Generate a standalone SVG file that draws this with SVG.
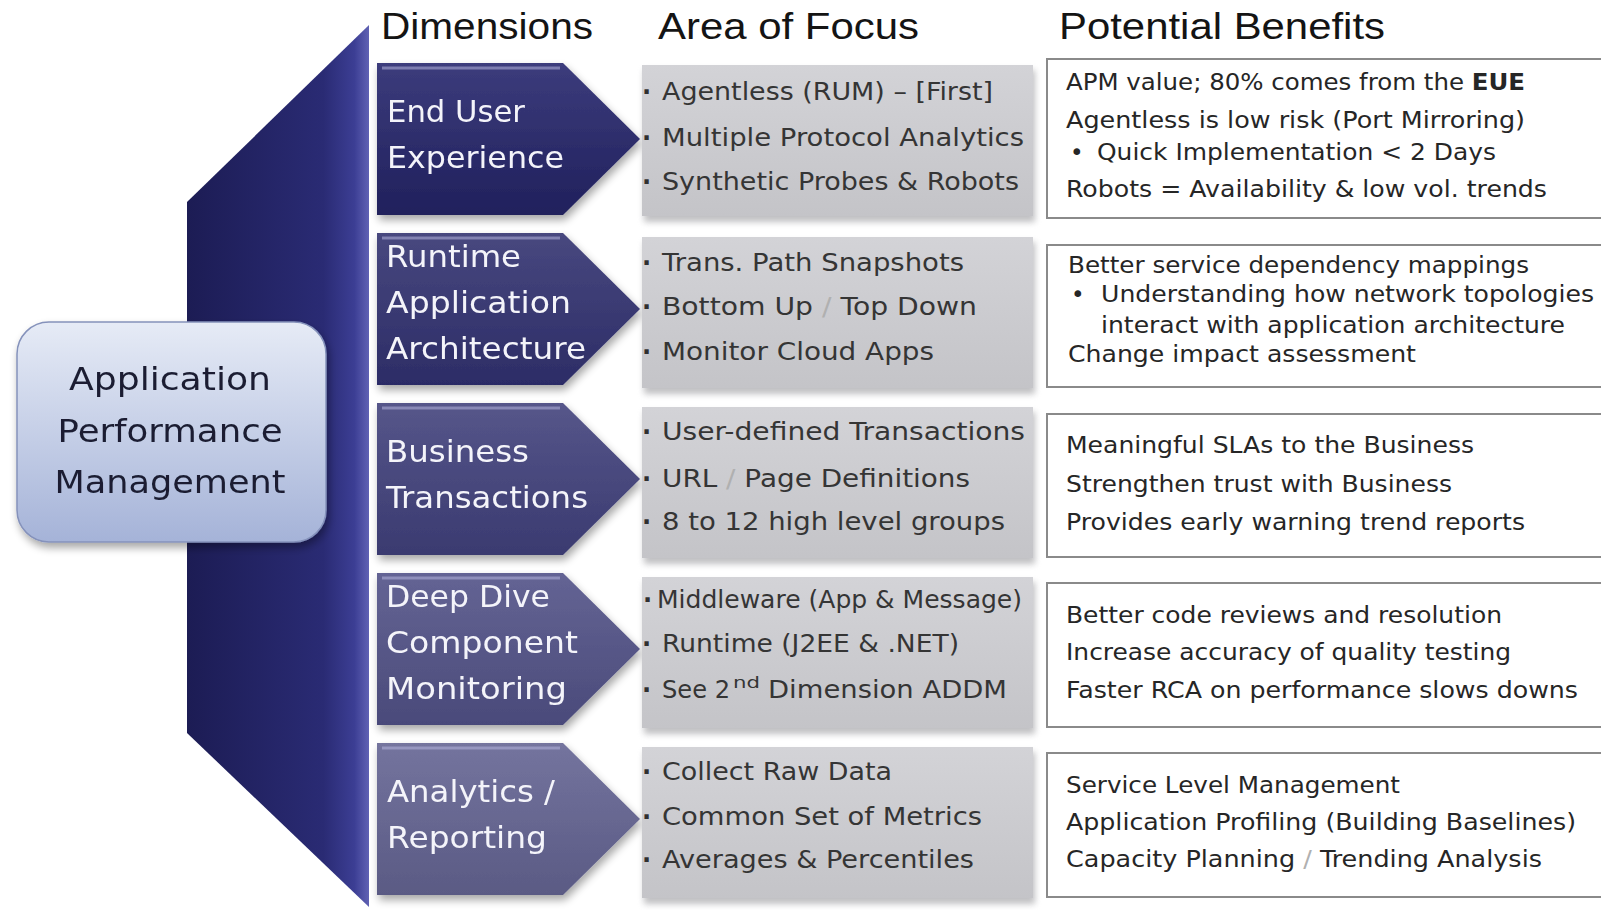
<svg xmlns="http://www.w3.org/2000/svg" width="1601" height="910" viewBox="0 0 1601 910">
<defs>
<style>
.hdr{font-family:"Liberation Sans",Arial,sans-serif;font-size:36px;fill:#141414}
.dim{font-family:"DejaVu Sans","Liberation Sans",sans-serif;font-size:31px;fill:#f4f4fa}
.foc{font-family:"DejaVu Sans","Liberation Sans",sans-serif;font-size:24px;fill:#353535}
.bul{font-family:"DejaVu Sans","Liberation Sans",sans-serif;font-size:24px;fill:#303030;font-weight:bold}
.ben{font-family:"DejaVu Sans","Liberation Sans",sans-serif;font-size:23px;fill:#262626}
.apm{font-family:"DejaVu Sans","Liberation Sans",sans-serif;font-size:32px;fill:#1a1f33;text-anchor:middle}
.fbox{fill:url(#gGray)}
.fshadow{fill:#8d8d92;opacity:0.55;filter:url(#blur3)}
.bbox{fill:#ffffff;stroke:#8a8a8a;stroke-width:2}
.hl{fill:none;stroke:#b4b4dc;stroke-width:3;stroke-opacity:0.55}
.faint{fill:#b0b0b0}
</style>
<linearGradient id="gSpine" gradientUnits="userSpaceOnUse" x1="187" y1="0" x2="369" y2="0">
<stop offset="0" stop-color="#1c1c54"/>
<stop offset="0.75" stop-color="#2a2b74"/>
<stop offset="0.92" stop-color="#3c3e94"/>
<stop offset="1" stop-color="#6062b4"/>
</linearGradient>
<linearGradient id="gApm" x1="0" y1="0" x2="0" y2="1">
<stop offset="0" stop-color="#e6ebf6"/>
<stop offset="1" stop-color="#a5b3d8"/>
</linearGradient>
<linearGradient id="gGray" x1="0" y1="0" x2="0" y2="1">
<stop offset="0" stop-color="#d3d3d7"/>
<stop offset="1" stop-color="#c4c4c8"/>
</linearGradient>
<linearGradient id="gC1" x1="0" y1="0" x2="0" y2="1"><stop offset="0" stop-color="#3c3c7c"/><stop offset="1" stop-color="#20205c"/></linearGradient>
<linearGradient id="gC2" x1="0" y1="0" x2="0" y2="1"><stop offset="0" stop-color="#48487f"/><stop offset="1" stop-color="#2c2c66"/></linearGradient>
<linearGradient id="gC3" x1="0" y1="0" x2="0" y2="1"><stop offset="0" stop-color="#56568a"/><stop offset="1" stop-color="#3a3a70"/></linearGradient>
<linearGradient id="gC4" x1="0" y1="0" x2="0" y2="1"><stop offset="0" stop-color="#646494"/><stop offset="1" stop-color="#4a4a7a"/></linearGradient>
<linearGradient id="gC5" x1="0" y1="0" x2="0" y2="1"><stop offset="0" stop-color="#74749e"/><stop offset="1" stop-color="#5a5a84"/></linearGradient>
<filter id="blur3" x="-10%" y="-20%" width="120%" height="140%"><feGaussianBlur stdDeviation="3"/></filter>
<filter id="shadow" x="-10%" y="-10%" width="125%" height="130%">
<feGaussianBlur in="SourceAlpha" stdDeviation="4"/>
<feOffset dx="2" dy="5" result="o"/>
<feComponentTransfer><feFuncA type="linear" slope="0.35"/></feComponentTransfer>
<feMerge><feMergeNode/><feMergeNode in="SourceGraphic"/></feMerge>
</filter>
</defs>
<rect x="0" y="0" width="1601" height="910" fill="#ffffff"/>

<g id="headers">
<text class="hdr" x="381" y="39" textLength="212" lengthAdjust="spacingAndGlyphs">Dimensions</text>
<text class="hdr" x="658" y="39" textLength="261" lengthAdjust="spacingAndGlyphs">Area of Focus</text>
<text class="hdr" x="1059" y="39" textLength="326" lengthAdjust="spacingAndGlyphs">Potential Benefits</text>
</g>

<g id="spine">
<path d="M369,25 L187,202 L187,733 L369,907 Z" fill="url(#gSpine)"/>
</g>

<g id="apm" filter="url(#shadow)">
<rect x="17" y="322" width="309" height="220" rx="32" ry="32" fill="url(#gApm)" stroke="#8592bb" stroke-width="1.5"/>
<text class="apm" x="170" y="390" textLength="202" lengthAdjust="spacingAndGlyphs">Application</text>
<text class="apm" x="170" y="442" textLength="225" lengthAdjust="spacingAndGlyphs">Performance</text>
<text class="apm" x="170" y="493" textLength="231" lengthAdjust="spacingAndGlyphs">Management</text>
</g>

<g id="dim-1" filter="url(#shadow)">
<path d="M377,63 L563,63 L640,139 L563,215 L377,215 Z" fill="url(#gC1)"/>
<path class="hl" d="M382,68 L560,68"/>
<text class="dim" x="387" y="122" textLength="138" lengthAdjust="spacingAndGlyphs">End User</text>
<text class="dim" x="387" y="168" textLength="177" lengthAdjust="spacingAndGlyphs">Experience</text>
</g>
<g id="dim-2" filter="url(#shadow)">
<path d="M377,233 L563,233 L640,309 L563,385 L377,385 Z" fill="url(#gC2)"/>
<path class="hl" d="M382,238 L560,238"/>
<text class="dim" x="386" y="267" textLength="135" lengthAdjust="spacingAndGlyphs">Runtime</text>
<text class="dim" x="386" y="313" textLength="185" lengthAdjust="spacingAndGlyphs">Application</text>
<text class="dim" x="386" y="359" textLength="200" lengthAdjust="spacingAndGlyphs">Architecture</text>
</g>
<g id="dim-3" filter="url(#shadow)">
<path d="M377,403 L563,403 L640,479 L563,555 L377,555 Z" fill="url(#gC3)"/>
<path class="hl" d="M382,408 L560,408"/>
<text class="dim" x="386" y="462" textLength="143" lengthAdjust="spacingAndGlyphs">Business</text>
<text class="dim" x="386" y="508" textLength="202" lengthAdjust="spacingAndGlyphs">Transactions</text>
</g>
<g id="dim-4" filter="url(#shadow)">
<path d="M377,573 L563,573 L640,649 L563,725 L377,725 Z" fill="url(#gC4)"/>
<path class="hl" d="M382,578 L560,578"/>
<text class="dim" x="386" y="607" textLength="164" lengthAdjust="spacingAndGlyphs">Deep Dive</text>
<text class="dim" x="386" y="653" textLength="192" lengthAdjust="spacingAndGlyphs">Component</text>
<text class="dim" x="386" y="699" textLength="181" lengthAdjust="spacingAndGlyphs">Monitoring</text>
</g>
<g id="dim-5" filter="url(#shadow)">
<path d="M377,743 L563,743 L640,819 L563,895 L377,895 Z" fill="url(#gC5)"/>
<path class="hl" d="M382,748 L560,748"/>
<text class="dim" x="387" y="802" textLength="168" lengthAdjust="spacingAndGlyphs">Analytics /</text>
<text class="dim" x="387" y="848" textLength="160" lengthAdjust="spacingAndGlyphs">Reporting</text>
</g>

<g id="focus-1">
<rect class="fshadow" x="644" y="70" width="391" height="152"/>
<rect class="fbox" x="642" y="65" width="391" height="151"/>
<text class="bul" x="642" y="100">·</text><text class="foc" x="662" y="100" textLength="331" lengthAdjust="spacingAndGlyphs">Agentless (RUM) – [First]</text>
<text class="bul" x="642" y="146">·</text><text class="foc" x="662" y="146" textLength="362" lengthAdjust="spacingAndGlyphs">Multiple Protocol Analytics</text>
<text class="bul" x="642" y="190">·</text><text class="foc" x="662" y="190" textLength="357" lengthAdjust="spacingAndGlyphs">Synthetic Probes &amp; Robots</text>
</g>
<g id="focus-2">
<rect class="fshadow" x="644" y="242" width="391" height="152"/>
<rect class="fbox" x="642" y="237" width="391" height="151"/>
<text class="bul" x="642" y="271">·</text><text class="foc" x="662" y="271" textLength="302" lengthAdjust="spacingAndGlyphs">Trans. Path Snapshots</text>
<text class="bul" x="642" y="315">·</text><text class="foc" x="662" y="315" textLength="315" lengthAdjust="spacingAndGlyphs">Bottom Up <tspan class="faint">/</tspan> Top Down</text>
<text class="bul" x="642" y="360">·</text><text class="foc" x="662" y="360" textLength="272" lengthAdjust="spacingAndGlyphs">Monitor Cloud Apps</text>
</g>
<g id="focus-3">
<rect class="fshadow" x="644" y="412" width="391" height="152"/>
<rect class="fbox" x="642" y="407" width="391" height="151"/>
<text class="bul" x="642" y="440">·</text><text class="foc" x="662" y="440" textLength="363" lengthAdjust="spacingAndGlyphs">User-defined Transactions</text>
<text class="bul" x="642" y="487">·</text><text class="foc" x="662" y="487" textLength="308" lengthAdjust="spacingAndGlyphs">URL <tspan class="faint">/</tspan> Page Definitions</text>
<text class="bul" x="642" y="530">·</text><text class="foc" x="662" y="530" textLength="343" lengthAdjust="spacingAndGlyphs">8 to 12 high level groups</text>
</g>
<g id="focus-4">
<rect class="fshadow" x="644" y="582" width="391" height="152"/>
<rect class="fbox" x="642" y="577" width="391" height="151"/>
<text class="bul" x="643" y="608">·</text><text class="foc" x="657" y="608" textLength="365" lengthAdjust="spacingAndGlyphs">Middleware (App &amp; Message)</text>
<text class="bul" x="642" y="652">·</text><text class="foc" x="662" y="652" textLength="297" lengthAdjust="spacingAndGlyphs">Runtime (J2EE &amp; .NET)</text>
<text class="bul" x="642" y="698">·</text><text class="foc" x="662" y="698" textLength="68" lengthAdjust="spacingAndGlyphs">See 2</text><text class="foc" x="733" y="688" style="font-size:15px" textLength="27" lengthAdjust="spacingAndGlyphs">nd</text><text class="foc" x="768" y="698" textLength="239" lengthAdjust="spacingAndGlyphs">Dimension ADDM</text>
</g>
<g id="focus-5">
<rect class="fshadow" x="644" y="752" width="391" height="152"/>
<rect class="fbox" x="642" y="747" width="391" height="151"/>
<text class="bul" x="642" y="780">·</text><text class="foc" x="662" y="780" textLength="230" lengthAdjust="spacingAndGlyphs">Collect Raw Data</text>
<text class="bul" x="642" y="825">·</text><text class="foc" x="662" y="825" textLength="320" lengthAdjust="spacingAndGlyphs">Common Set of Metrics</text>
<text class="bul" x="642" y="868">·</text><text class="foc" x="662" y="868" textLength="312" lengthAdjust="spacingAndGlyphs">Averages &amp; Percentiles</text>
</g>

<g id="benefit-1">
<rect class="bbox" x="1047" y="59" width="580" height="159"/>
<text class="ben" x="1066" y="90" textLength="459" lengthAdjust="spacingAndGlyphs">APM value; 80% comes from the <tspan font-weight="bold">EUE</tspan></text>
<text class="ben" x="1066" y="128" textLength="459" lengthAdjust="spacingAndGlyphs">Agentless is low risk (Port Mirroring)</text>
<text class="ben" x="1070" y="160">•</text><text class="ben" x="1097" y="160" textLength="399" lengthAdjust="spacingAndGlyphs">Quick Implementation &lt; 2 Days</text>
<text class="ben" x="1066" y="197" textLength="481" lengthAdjust="spacingAndGlyphs">Robots = Availability &amp; low vol. trends</text>
</g>
<g id="benefit-2">
<rect class="bbox" x="1047" y="245" width="580" height="142"/>
<text class="ben" x="1068" y="273" textLength="461" lengthAdjust="spacingAndGlyphs">Better service dependency mappings</text>
<text class="ben" x="1071" y="302">•</text><text class="ben" x="1101" y="302" textLength="493" lengthAdjust="spacingAndGlyphs">Understanding how network topologies</text>
<text class="ben" x="1101" y="333" textLength="464" lengthAdjust="spacingAndGlyphs">interact with application architecture</text>
<text class="ben" x="1068" y="362" textLength="348" lengthAdjust="spacingAndGlyphs">Change impact assessment</text>
</g>
<g id="benefit-3">
<rect class="bbox" x="1047" y="414" width="580" height="143"/>
<text class="ben" x="1066" y="453" textLength="408" lengthAdjust="spacingAndGlyphs">Meaningful SLAs to the Business</text>
<text class="ben" x="1066" y="492" textLength="386" lengthAdjust="spacingAndGlyphs">Strengthen trust with Business</text>
<text class="ben" x="1066" y="530" textLength="459" lengthAdjust="spacingAndGlyphs">Provides early warning trend reports</text>
</g>
<g id="benefit-4">
<rect class="bbox" x="1047" y="583" width="580" height="144"/>
<text class="ben" x="1066" y="623" textLength="436" lengthAdjust="spacingAndGlyphs">Better code reviews and resolution</text>
<text class="ben" x="1066" y="660" textLength="445" lengthAdjust="spacingAndGlyphs">Increase accuracy of quality testing</text>
<text class="ben" x="1066" y="698" textLength="512" lengthAdjust="spacingAndGlyphs">Faster RCA on performance slows downs</text>
</g>
<g id="benefit-5">
<rect class="bbox" x="1047" y="753" width="580" height="144"/>
<text class="ben" x="1066" y="793" textLength="334" lengthAdjust="spacingAndGlyphs">Service Level Management</text>
<text class="ben" x="1066" y="830" textLength="510" lengthAdjust="spacingAndGlyphs">Application Profiling (Building Baselines)</text>
<text class="ben" x="1066" y="867" textLength="476" lengthAdjust="spacingAndGlyphs">Capacity Planning  <tspan class="faint">/</tspan>  Trending Analysis</text>
</g>

<g id="connectors"></g>
</svg>
